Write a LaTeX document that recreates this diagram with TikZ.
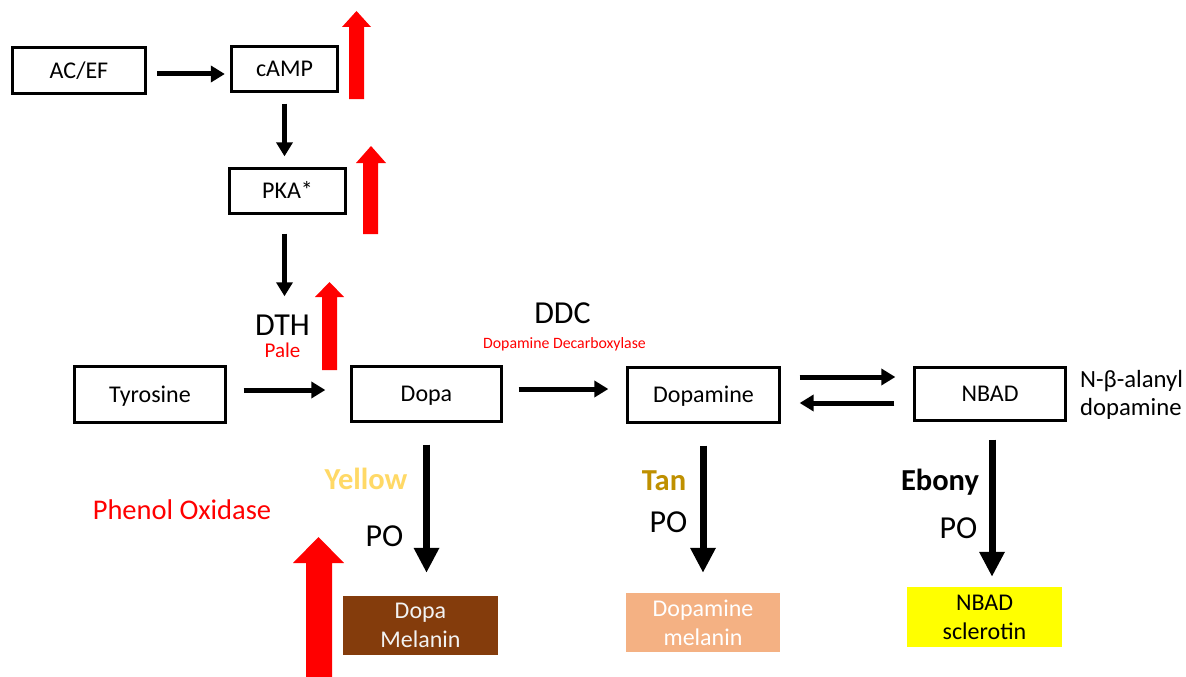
\documentclass[tikz,border=0pt]{standalone}
\usepackage{fontspec}
\setmainfont{Carlito}
\usetikzlibrary{arrows.meta,calc}
\definecolor{redA}{HTML}{FF0000}
\definecolor{yellowT}{HTML}{FFD966}
\definecolor{tanT}{HTML}{BF9000}
\definecolor{brownF}{HTML}{843C0C}
\definecolor{peachF}{HTML}{F4B183}
\definecolor{yelF}{HTML}{FFFF00}
\definecolor{paleT}{HTML}{F2F2F2}
\begin{document}
\begin{tikzpicture}[x=1pt,y=-1pt,
  box/.style={draw=black, line width=3.3pt, fill=white, font=\fontsize{24}{29}\selectfont, text height=15.5pt, text depth=0pt, inner sep=0pt},
  cbox/.style={inner sep=0pt, font=\fontsize{24}{29}\selectfont, align=center},
  lbl/.style={inner sep=0pt, anchor=base},
  big/.style={font=\fontsize{32}{38}\selectfont},
  bold/.style={font=\fontsize{30.5}{36}\selectfont\bfseries},
  arr/.style={line width=5pt, -{Triangle[length=14pt,width=16pt]}},
  bigarr/.style={line width=7pt, -{Triangle[length=25pt,width=24pt]}},
  redup/.style={fill=redA}
]
\useasboundingbox[fill=white] (0,0) rectangle (1186,677);

% boxes
\node[box, minimum width=133pt, minimum height=46pt] (acef) at (79,70.5) {AC/EF};
\node[box, minimum width=106pt, minimum height=45pt] (camp) at (284.5,69) {cAMP};
\node[box, minimum width=116pt, minimum height=45pt] (pka) at (287.5,191) {PKA*};
\node[box, minimum width=151pt, minimum height=56pt] (tyr) at (150,394.5) {Tyrosine};
\node[box, minimum width=150pt, minimum height=55pt] (dopa) at (426.5,394) {Dopa};
\node[box, minimum width=152pt, minimum height=55pt] (dopamine) at (703.5,395) {Dopamine};
\node[box, minimum width=151pt, minimum height=53pt] (nbad) at (990,394) {NBAD};

\node[cbox, fill=brownF, text=paleT, minimum width=155pt, minimum height=59pt] (dmel) at (420.5,625.5) {Dopa\\Melanin};
\node[cbox, fill=peachF, text=white, minimum width=154pt, minimum height=59pt] (damel) at (703,622.5) {Dopamine\\melanin};
\node[cbox, fill=yelF, text=black, minimum width=155pt, minimum height=60pt] (nsc) at (984.5,617) {NBAD\\sclerotin};

% labels
\node[lbl, big] (dth) at (282.5,335) {DTH};
\node[lbl, text=redA, font=\fontsize{21}{25}\selectfont] (pale) at (282.5,357) {Pale};
\node[lbl, big] (ddc) at (562.5,323) {DDC};
\node[lbl, text=redA, font=\fontsize{15.8}{19}\selectfont] (ddcsub) at (564.5,348) {Dopamine Decarboxylase};
\node[lbl, bold, text=yellowT] (yellow) at (366,489) {Yellow};
\node[lbl, big] (po1) at (384.5,546) {PO};
\node[lbl, text=redA, font=\fontsize{28.5}{34}\selectfont] (phenol) at (182,519) {Phenol Oxidase};
\node[lbl, bold, text=tanT] (tan) at (664,490) {Tan};
\node[lbl, big] (po2) at (668.5,532) {PO};
\node[lbl, bold] (ebony) at (940,490) {Ebony};
\node[lbl, big] (po3) at (958.5,538) {PO};
\node[lbl, anchor=base west, font=\fontsize{24.7}{29}\selectfont] (nb1) at (1080,387) {N-β-alanyl};
\node[lbl, anchor=base west, font=\fontsize{24.7}{29}\selectfont] (nb2) at (1080,415) {dopamine};

% red up arrows
\fill[redup] (349,99) -- (349,27) -- (342,27) -- (356.5,11) -- (371,27) -- (364,27) -- (364,99) -- cycle;
\fill[redup] (363,234) -- (363,163) -- (356,163) -- (371,146) -- (386,163) -- (378,163) -- (378,234) -- cycle;
\fill[redup] (322,370) -- (322,297) -- (315,297) -- (329.5,282) -- (344,297) -- (337,297) -- (337,370) -- cycle;
\fill[redup] (306,677) -- (306,563) -- (293,563) -- (318.5,537) -- (344,563) -- (332,563) -- (332,677) -- cycle;

% connectors
\draw[arr] ($(acef.east)+(10,3.5)$) -- ($(camp.west)+(-5,5)$);
\draw[arr] ($(camp.south)+(0,10.5)$) -- ($(camp.south |- pka.north)+(0,-10.5)$);
\draw[arr] ($(camp.south |- pka.south)+(0,18.5)$) -- ($(camp.south |- dth.north)+(0,-18)$);
\draw[arr] ($(tyr.east)+(16.5,-4.5)$) -- ($(dopa.west)+(-24.5,-4)$);
\draw[arr] ($(dopa.east)+(15.5,-5)$) -- ($(dopamine.west)+(-17.5,-6)$);
\draw[arr] ($(dopamine.east)+(18.5,-18)$) -- ($(nbad.west)+(-17.5,-17)$);
\draw[arr] ($(nbad.west)+(-18.5,9)$) -- ($(dopamine.east)+(18.5,8)$);
\draw[bigarr] ($(dopa.south)+(0,21.5)$) -- ($(dopa.south |- dmel.north)+(0,-23)$);
\draw[bigarr] ($(dopamine.south)+(-0.5,21.5)$) -- ($(dopamine.south |- damel.north)+(-0.5,-20)$);
\draw[bigarr] ($(nbad.south)+(2,17.5)$) -- ($(nbad.south |- nsc.north)+(2,-10)$);
\end{tikzpicture}
\end{document}
